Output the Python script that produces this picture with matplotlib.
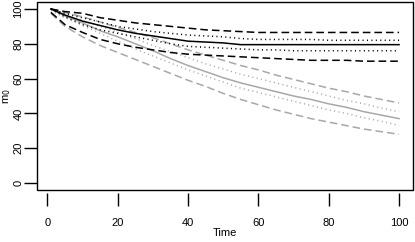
import matplotlib
matplotlib.use("Agg")
import matplotlib.pyplot as plt
from matplotlib.patches import Rectangle

# Temps des points
time = [1, 5, 10, 15, 20, 25, 30, 35, 40, 45, 50, 55, 60, 65, 70, 75, 80, 85, 90, 95, 100]

# Groupe noir : moyenne, bandes intérieures (pointillés) et extérieures (tirets)
black_mean = [100, 96.5, 93, 90.5, 88, 86, 84.5, 83, 81.5, 81, 80.5, 79.5, 79.5, 79.5, 79.5, 79.5, 79.5, 79.5, 79.5, 79.5, 79.5]
black_hi = [100, 98.5, 97.5, 95, 93.5, 92, 91, 90, 89, 88, 87.5, 87, 86.5, 86.5, 86.5, 86.5, 86.5, 86.5, 86.5, 86.5, 86.5]
black_mid_hi = [100, 97.5, 95, 92.5, 90, 88.5, 87, 86, 85, 84.5, 84, 83, 82.5, 82.5, 82.5, 82.5, 82, 82, 82, 82, 82]
black_mid_lo = [100, 95.5, 91, 88, 86, 84, 82, 80, 78.5, 78, 77.5, 77, 76.5, 76.5, 76, 76, 76, 76, 76, 76, 76]
black_lo = [98, 91, 86.5, 82.5, 80, 78, 76.5, 75, 74, 73.5, 73, 72.5, 72, 71.5, 71, 70.5, 70.5, 70.5, 70, 70, 70]

# Groupe gris
gray_mean = [100, 96, 92, 87.5, 84, 80, 76, 71.5, 67.5, 64, 60.5, 57.5, 55, 52.5, 50, 48, 45.5, 43.5, 41, 39, 37]
gray_hi = [100, 98, 95.5, 92.5, 89.5, 86.5, 83.5, 80, 76.5, 73.5, 70.5, 67.5, 65, 62, 59.5, 57, 54.5, 52.5, 50, 48, 46]
gray_mid_hi = [100, 97, 93.5, 90, 86.5, 83, 79, 75.5, 72, 68.5, 65.5, 62.5, 60, 57.5, 55, 52.5, 50, 47.5, 45.5, 43, 41]
gray_mid_lo = [99, 95, 90.5, 86, 81.5, 77, 73, 69, 65, 61.5, 58, 54.5, 52, 49.5, 47, 44.5, 42, 40, 37.5, 35.5, 33]
gray_lo = [97.5, 90, 84, 79, 75, 71, 67, 63, 59, 55.5, 51.5, 48, 45, 42, 39.5, 37, 35, 33, 31, 29.5, 28]

xticks = [0, 20, 40, 60, 80, 100]
yticks = [0, 20, 40, 60, 80, 100]

plt.rcParams["font.family"] = ["Liberation Sans", "DejaVu Sans"]

fig = plt.figure(figsize=(4.15, 2.42), dpi=100)
ax = fig.add_axes([37 / 415, 1 - 190 / 242, 376 / 415, 188 / 242])

gray = "#a8a8a8"
lw = 1.1
dash = (0, (5.0, 2.6))
dot = (0, (0.7, 2.2))

for col, mean, hi, mhi, mlo, lo in [
    (gray, gray_mean, gray_hi, gray_mid_hi, gray_mid_lo, gray_lo),
    ("black", black_mean, black_hi, black_mid_hi, black_mid_lo, black_lo),
]:
    ax.plot(time, mean, color=col, lw=lw)
    ax.plot(time, hi, color=col, lw=lw, linestyle=dash)
    ax.plot(time, lo, color=col, lw=lw, linestyle=dash)
    ax.plot(time, mhi, color=col, lw=lw, linestyle=dot)
    ax.plot(time, mlo, color=col, lw=lw, linestyle=dot)

ax.set_xlim(-2.96, 103.96)
ax.set_ylim(-4, 104)

# cadre type R
for s in ax.spines.values():
    s.set_visible(False)
ax.add_patch(Rectangle((0, 0), 1, 1, transform=ax.transAxes, fill=False,
                       edgecolor="black", lw=1.0, clip_on=False))
ax.spines["bottom"].set_position(("outward", 2))

ax.set_xticks(xticks)
ax.set_yticks(yticks)
ax.tick_params(axis="both", direction="out", length=9.2, width=1.0, labelsize=8)
ax.tick_params(axis="x", pad=9)
ax.tick_params(axis="y", pad=0.5)
for lab in ax.get_yticklabels():
    lab.set_rotation(90)
    lab.set_va("center")

ax.set_xlabel("Time", fontsize=8)
ax.set_ylabel(r"m$_0$", fontsize=8)
ax.xaxis.set_label_coords(0.5, (190 - 228) / 188)
ax.yaxis.set_label_coords((13 - 37) / 376, 0.5)

fig.savefig("out.png", dpi=100)
